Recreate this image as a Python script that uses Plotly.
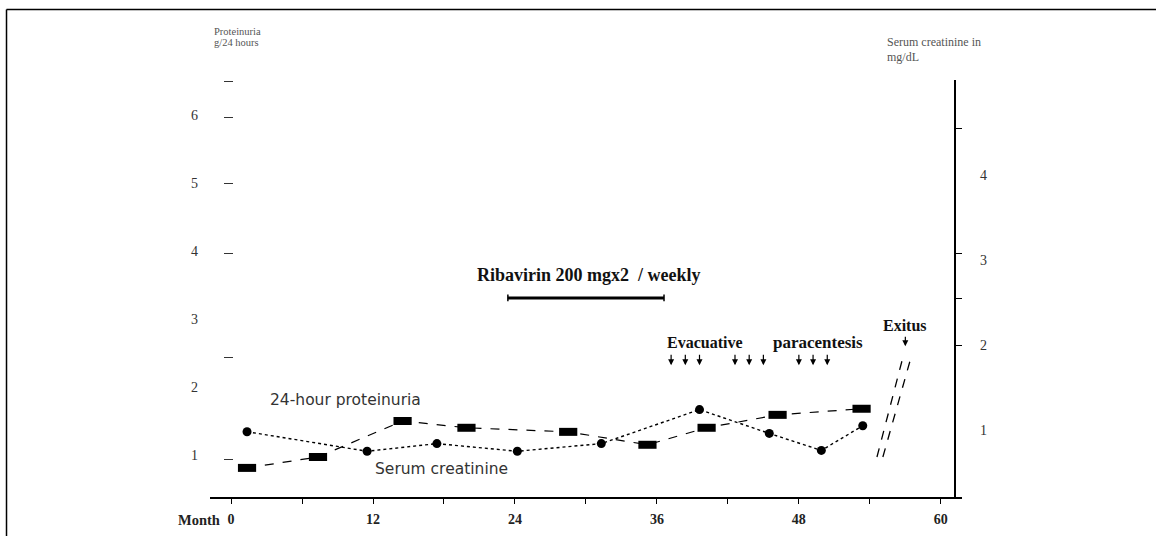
import plotly.graph_objects as go

# ---- data ----
prot_month = [1.35, 7.35, 14.5, 19.9, 28.5, 35.2, 40.2, 46.2, 53.3]
prot_value = [0.81, 0.97, 1.50, 1.40, 1.34, 1.15, 1.40, 1.59, 1.68]      # g/24 h (left axis)

creat_month = [1.35, 11.5, 17.4, 24.2, 31.3, 39.6, 45.5, 49.9, 53.4]
creat_value = [0.98, 0.75, 0.84, 0.75, 0.84, 1.24, 0.96, 0.76, 1.05]     # mg/dL (right axis)

x_tickvals = [0, 6, 12, 18, 24, 30, 36, 42, 48, 54, 60]
x_ticktext = ["0", "", "12", "", "24", "", "36", "", "48", "", "60"]

left_labels = [1, 2, 3, 4, 5, 6]
left_dashes = [0.93, 2.44, 3.97, 4.99, 5.97, 6.49]
right_labels = [1, 2, 3, 4]
right_ticks = [2.0, 2.553, 3.082, 4.553]

ribavirin_start, ribavirin_end = 23.4, 36.6
paracentesis_months = [37.2, 38.4, 39.6, 42.6, 43.8, 45.0, 48.0, 49.2, 50.4]
exitus_month = 57.0

X_RANGE = [-1.78, 61.79]
YL_RANGE = [0.382, 6.515]
YR_RANGE = [0.212, 5.118]

SERIF = "Liberation Serif, Times New Roman, serif"
SANS = "DejaVu Sans, Arial, sans-serif"

fig = go.Figure()

fig.add_trace(go.Scatter(
    x=prot_month, y=prot_value, mode="lines+markers", name="24-hour proteinuria",
    line=dict(color="black", width=1.2, dash="dash"),
    marker=dict(symbol="line-ew", size=13, color="black",
                line=dict(color="black", width=8)),
    yaxis="y", showlegend=False))

fig.add_trace(go.Scatter(
    x=creat_month, y=creat_value, mode="lines+markers", name="Serum creatinine",
    line=dict(color="black", width=1.4, dash="dot"),
    marker=dict(symbol="circle", size=9, color="black"),
    yaxis="y2", showlegend=False))

# empty traces so the overlay axes (labels / tick dashes) get drawn
fig.add_trace(go.Scatter(x=[], y=[], yaxis="y3", showlegend=False, hoverinfo="skip"))
fig.add_trace(go.Scatter(x=[], y=[], yaxis="y4", showlegend=False, hoverinfo="skip"))

annotations = []
# series labels
annotations.append(dict(x=9.64, y=1.81, xref="x", yref="y", text="24-hour proteinuria",
                        showarrow=False, font=dict(family=SANS, size=15.5, color="#333")))
annotations.append(dict(x=17.75, y=0.79, xref="x", yref="y", text="Serum creatinine",
                        showarrow=False, font=dict(family=SANS, size=15.5, color="#333")))
# treatment
annotations.append(dict(x=30.3, y=3.65, xref="x", yref="y", text="<b>Ribavirin 200 mgx2  / weekly</b>",
                        showarrow=False, font=dict(family=SERIF, size=18, color="#111")))
annotations.append(dict(x=40.1, y=2.65, xref="x", yref="y", text="<b>Evacuative</b>",
                        showarrow=False, font=dict(family=SERIF, size=16, color="#111")))
annotations.append(dict(x=49.6, y=2.65, xref="x", yref="y", text="<b>paracentesis</b>",
                        showarrow=False, font=dict(family=SERIF, size=17, color="#111")))
annotations.append(dict(x=exitus_month, y=2.90, xref="x", yref="y", text="<b>Exitus</b>",
                        showarrow=False, font=dict(family=SERIF, size=16, color="#111")))
for m in paracentesis_months:
    annotations.append(dict(x=m, y=2.32, xref="x", yref="y", text="", showarrow=True,
                            ax=0, ay=-12, arrowhead=2, arrowsize=1, arrowwidth=1.2,
                            arrowcolor="black"))
annotations.append(dict(x=exitus_month, y=2.60, xref="x", yref="y", text="", showarrow=True,
                        ax=0, ay=-11, arrowhead=2, arrowsize=1, arrowwidth=1.2,
                        arrowcolor="black"))
# axis titles
title_font = dict(family=SERIF, size=10.5, color="#555")
annotations.append(dict(x=0.0027, y=1.1175, xref="paper", yref="paper", text="Proteinuria",
                        showarrow=False, xanchor="left", yanchor="middle", font=title_font))
annotations.append(dict(x=0.0027, y=1.0911, xref="paper", yref="paper", text="g/24 hours",
                        showarrow=False, xanchor="left", yanchor="middle", font=title_font))
annotations.append(dict(x=0.8976, y=1.091, xref="paper", yref="paper", text="Serum creatinine in",
                        showarrow=False, xanchor="left", yanchor="middle",
                        font=dict(family=SERIF, size=12, color="#555")))
annotations.append(dict(x=0.8976, y=1.055, xref="paper", yref="paper", text="mg/dL",
                        showarrow=False, xanchor="left", yanchor="middle",
                        font=dict(family=SERIF, size=12, color="#555")))
annotations.append(dict(x=0.016, y=-0.055, xref="paper", yref="paper", text="<b>Month</b>",
                        showarrow=False, xanchor="right", yanchor="middle",
                        font=dict(family=SERIF, size=14.5, color="#222")))

shapes = []
# ribavirin bar with end caps
shapes.append(dict(type="line", xref="x", yref="y", x0=ribavirin_start, x1=ribavirin_end,
                   y0=3.31, y1=3.31, line=dict(color="black", width=3)))
for xm in (ribavirin_start, ribavirin_end):
    shapes.append(dict(type="line", xref="x", yref="y", x0=xm, x1=xm, y0=3.26, y1=3.36,
                       line=dict(color="black", width=1.5)))
# axis break marks
shapes.append(dict(type="line", xref="x", yref="y", x0=54.6, y0=0.97, x1=56.8, y1=2.44,
                   line=dict(color="black", width=1.3, dash="dash")))
shapes.append(dict(type="line", xref="x", yref="y", x0=55.1, y0=0.97, x1=57.57, y1=2.49,
                   line=dict(color="black", width=1.3, dash="dash")))
# frame lines of the scanned figure
shapes.append(dict(type="line", xref="paper", yref="paper", x0=-0.2706, x1=1.258, y0=1.169, y1=1.169,
                   line=dict(color="black", width=1.5)))
shapes.append(dict(type="line", xref="paper", yref="paper", x0=-0.2706, x1=-0.2706, y0=1.169, y1=-0.0935,
                   line=dict(color="black", width=1.5)))

fig.update_layout(
    width=1156, height=536,
    margin=dict(l=210, r=194, t=80, b=39, autoexpand=False),
    paper_bgcolor="white", plot_bgcolor="white",
    showlegend=False,
    annotations=annotations, shapes=shapes,
    xaxis=dict(range=X_RANGE, showline=True, linecolor="black", linewidth=1.5,
               ticks="outside", ticklen=5, tickwidth=1.2, tickcolor="black",
               tickvals=x_tickvals, ticktext=x_ticktext, showgrid=False, zeroline=False,
               ticklabelstandoff=3, automargin=False,
               tickfont=dict(family=SERIF, size=14, color="#222", weight="bold")),
    yaxis=dict(range=YL_RANGE, showline=False, ticks="", tickvals=left_labels,
               showgrid=False, zeroline=False, ticklabelstandoff=11, automargin=False,
               tickfont=dict(family=SERIF, size=14, color="#333")),
    yaxis4=dict(range=YL_RANGE, overlaying="y", anchor="free", position=0.0173, side="left",
                showline=False, ticks="inside", ticklen=9, tickwidth=1.2, tickcolor="#333",
                tickvals=left_dashes, showticklabels=False, showgrid=False, zeroline=False,
                automargin=False),
    yaxis2=dict(range=YR_RANGE, overlaying="y", anchor="free", position=0.9907, side="right",
                showline=True, linecolor="black", linewidth=1.5,
                ticks="outside", ticklen=6, tickwidth=1.2, tickcolor="black",
                tickvals=right_ticks, showticklabels=False, showgrid=False, zeroline=False,
                automargin=False),
    yaxis3=dict(range=YR_RANGE, overlaying="y", anchor="free", position=0.9907, side="right",
                showline=False, ticks="", tickvals=right_labels, ticklabelstandoff=24,
                showgrid=False, zeroline=False, automargin=False,
                tickfont=dict(family=SERIF, size=14, color="#333")),
)

fig.write_html("out.html")
